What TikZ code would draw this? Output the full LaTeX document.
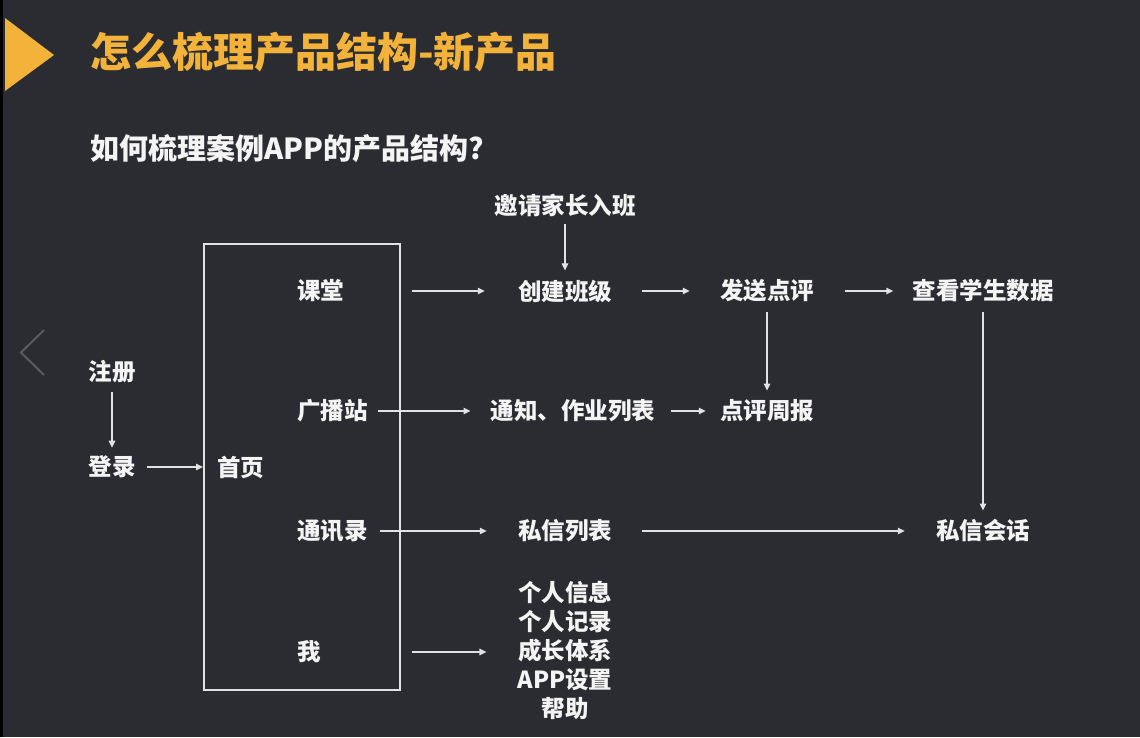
\documentclass[tikz,border=0pt]{standalone}
\usepackage{fontspec}
\setmainfont{Noto Sans CJK SC}
\usetikzlibrary{arrows.meta}
\definecolor{bg}{HTML}{2B2C31}
\definecolor{fg}{HTML}{F4F4F4}
\definecolor{ln}{HTML}{E2E2E4}
\definecolor{ttl}{HTML}{F3B33B}
\definecolor{chev}{HTML}{5A5B60}
\begin{document}
\begin{tikzpicture}[x=1pt,y=-1pt,
  lbl/.style={text=fg, font=\fontsize{23.5}{29}\selectfont\bfseries, inner sep=0pt},
  arr/.style={draw=ln, line width=1.4pt, -{Triangle[length=7pt,width=6.5pt]}}]
\fill[bg] (0,0) rectangle (1140,737);
\useasboundingbox (0,0) rectangle (1140,737);
\fill[black] (0,0) rectangle (3,737);
% title marker
\fill[ttl] (5,18) -- (54,55) -- (5,91) -- cycle;
\node[font=\fontsize{41}{41}\selectfont\bfseries, text=ttl, anchor=west, inner sep=0pt] (title) at (90,52) {怎么梳理产品结构-新产品};
\node[font=\fontsize{29}{29}\selectfont\bfseries, text=fg, anchor=west, inner sep=0pt] (sub) at (90,149) {如何梳理案例APP的产品结构?};
% chevron
\draw[chev, line width=2pt] (44,330) -- (21,352.5) -- (44,375);
% frame
\node[draw=ln, line width=1.3pt, minimum width=196pt, minimum height=446pt, inner sep=0pt] (box) at (302,467) {};
% nodes
\node[lbl] (zc) at (112,372) {注册};
\node[lbl] (dl) at (112,467) {登录};
\node[lbl, anchor=west] (sy) at (217,467) {首页};
\node[lbl, anchor=west] (kt) at (297,291) {课堂};
\node[lbl, anchor=west] (gb) at (297,411) {广播站};
\node[lbl, anchor=west] (tx) at (297,531) {通讯录};
\node[lbl, anchor=west] (wo) at (297,652) {我};
\node[lbl] (yq) at (565,205) {邀请家长入班};
\node[lbl] (cj) at (565,291) {创建班级};
\node[lbl] (fs) at (767,291) {发送点评};
\node[lbl] (ck) at (983,291) {查看学生数据};
\node[lbl] (tz) at (573,411) {通知、作业列表};
\node[lbl] (zb) at (767,411) {点评周报};
\node[lbl] (sx) at (565,531) {私信列表};
\node[lbl] (hh) at (983,531) {私信会话};
\node[lbl, align=center] (me) at (565,650) {个人信息\\个人记录\\成长体系\\APP设置\\帮助};
% connectors
\draw[arr] ([yshift=-8pt]zc.south) -- ([yshift=8pt]dl.north);
\draw[arr] ([xshift=11.5pt]dl.east) -- ([xshift=-14pt]sy.west);
\draw[arr] ([xshift=68pt]kt.east) -- ([xshift=-33pt]cj.west);
\draw[arr] ([yshift=-7pt]yq.south) -- ([yshift=9pt]cj.north);
\draw[arr] ([xshift=30pt]cj.east) -- ([xshift=-30pt]fs.west);
\draw[arr] ([xshift=31pt]fs.east) -- ([xshift=-19pt]ck.west);
\draw[arr] ([yshift=-9pt]fs.south) -- ([yshift=9pt]zb.north);
\draw[arr] ([xshift=10.5pt]gb.east) -- ([xshift=-20pt]tz.west);
\draw[arr] ([xshift=16pt]tz.east) -- ([xshift=-14pt]zb.west);
\draw[arr] ([yshift=-9pt]ck.south) -- ([yshift=9pt]hh.north);
\draw[arr] ([xshift=12.5pt]tx.east) -- ([xshift=-31pt]sx.west);
\draw[arr] ([xshift=30pt]sx.east) -- ([xshift=-31pt]hh.west);
\draw[arr] ([xshift=91.5pt]wo.east) -- ([xshift=-31pt]me.west |- wo.east);
\end{tikzpicture}
\end{document}
